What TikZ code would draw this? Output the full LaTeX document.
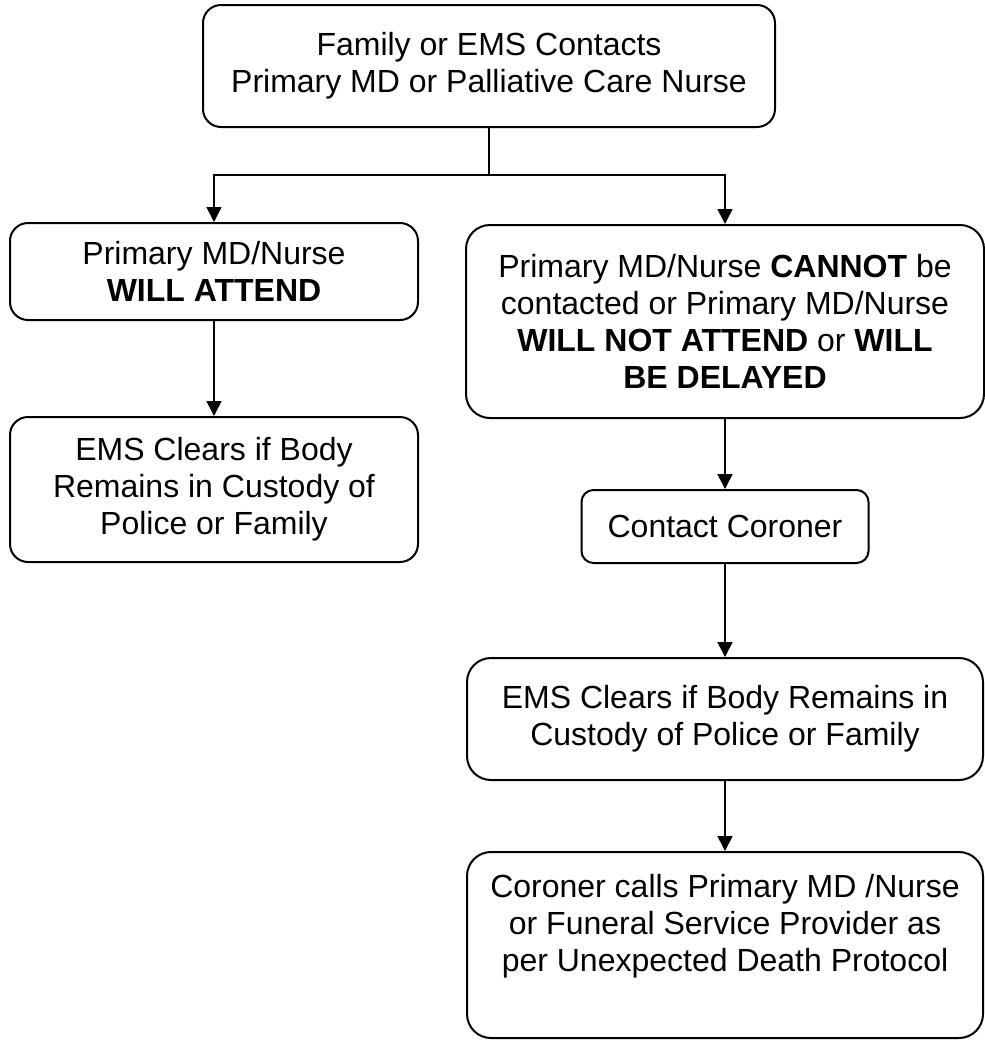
\documentclass[tikz,border=0pt]{standalone}
\usepackage{fontspec}
\setmainfont{Liberation Sans}
\usetikzlibrary{arrows.meta,positioning}
\tikzset{
  flowbox/.style={draw=black,line width=1pt,rounded corners=9pt,align=center,inner sep=3pt},
  flowarr/.style={-{Triangle[length=7.5pt,width=7.5pt]},line width=0.8pt,draw=black},
  flowline/.style={line width=0.8pt,draw=black}
}

\begin{document}
\begin{tikzpicture}[x=0.5pt,y=-0.5pt,font=\fontsize{16pt}{18.4pt}\selectfont]
  \useasboundingbox (0,0) rectangle (985,1040);
  \node[flowbox,minimum width=286pt,minimum height=61pt] (contact) at (489,66)
    {Family or EMS Contacts\\Primary MD or Palliative Care Nurse};
  \coordinate (split) at (489,175);
  \node[flowbox,minimum width=204pt,minimum height=48.5pt] (attend) at (214,271.5)
    {Primary MD/Nurse\\\textbf{WILL ATTEND}};
  \node[flowbox,minimum width=204pt,minimum height=72.5pt] (emsleft) at (214,489.5)
    {EMS Clears if Body\\Remains in Custody of\\Police or Family};
  \node[flowbox,minimum width=259pt,minimum height=96.5pt,rounded corners=12pt] (noattend) at (725,321.5)
    {Primary MD/Nurse \textbf{CANNOT} be\\contacted or Primary MD/Nurse\\
     \textbf{WILL NOT ATTEND} or \textbf{WILL}\\\textbf{BE DELAYED}};
  \node[flowbox,minimum width=143.5pt,minimum height=36.5pt,rounded corners=6pt] (coroner) at (725,526.5)
    {Contact Coroner};
  \node[flowbox,minimum width=258pt,minimum height=61pt,rounded corners=12pt] (emsright) at (725,719)
    {EMS Clears if Body Remains in\\Custody of Police or Family};
  \node[flowbox,minimum width=258pt,minimum height=93pt,rounded corners=12pt] (protocol) at (725,945) {};
  \node[anchor=north,inner sep=0pt,align=center,yshift=-11.5pt] (protocoltext) at (protocol.north)
    {Coroner calls Primary MD /Nurse\\or Funeral Service Provider as\\per Unexpected Death Protocol};
  % connectors
  \draw[flowline] (contact.south) -- (split);
  \draw[flowarr] (split) -| (attend.north);
  \draw[flowarr] (split) -| (noattend.north);
  \draw[flowarr] (attend) -- (emsleft);
  \draw[flowarr] (noattend) -- (coroner);
  \draw[flowarr] (coroner) -- (emsright);
  \draw[flowarr] (emsright) -- (protocol);
\end{tikzpicture}
\end{document}
